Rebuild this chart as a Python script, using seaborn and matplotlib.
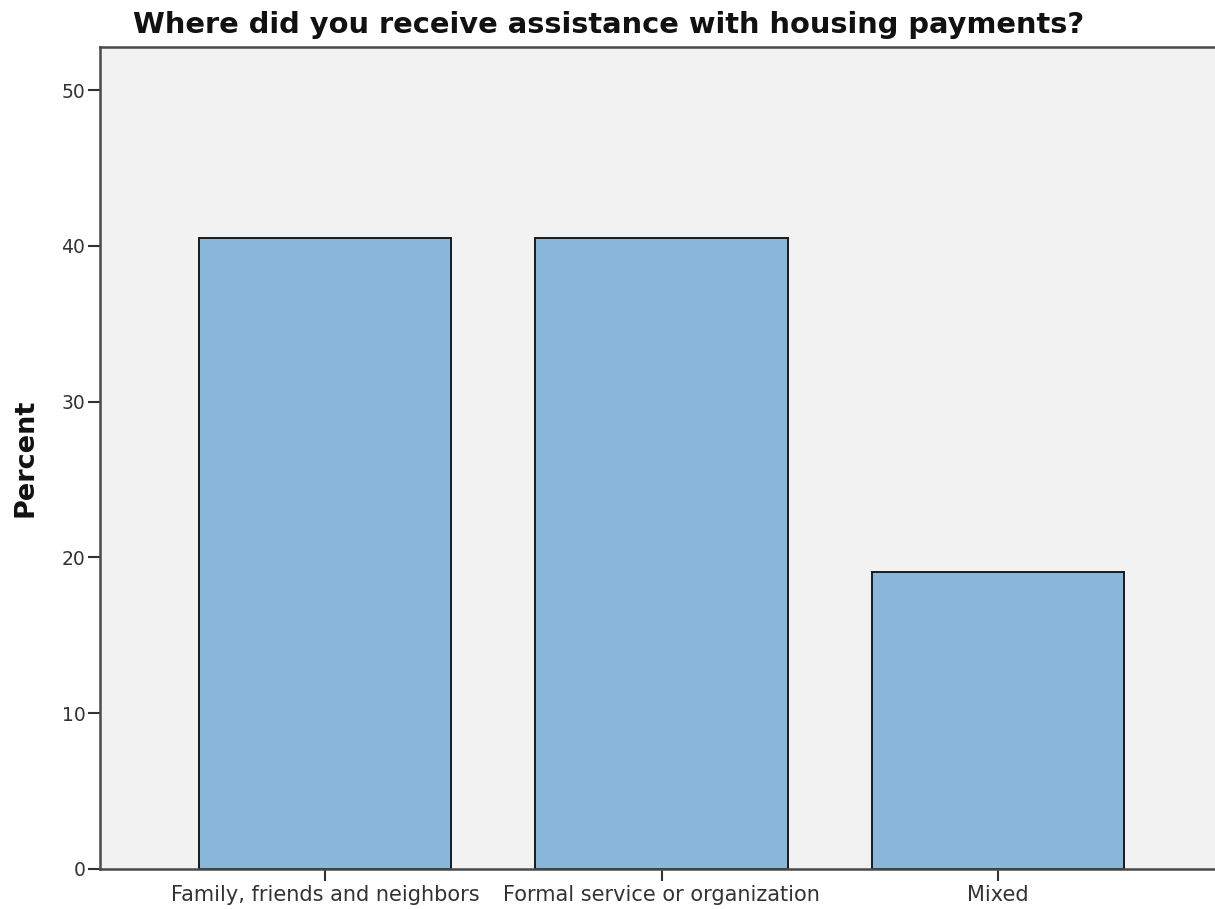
import matplotlib
matplotlib.use("Agg")
import matplotlib.pyplot as plt
import seaborn as sns
import pandas as pd

categories = ["Family, friends and neighbors", "Formal service or organization", "Mixed"]
percents = [40.48, 40.48, 19.05]
yticks = [0, 10, 20, 30, 40, 50]

sns.set_theme(style="white")
plt.rcParams["font.family"] = ["DejaVu Sans"]

df = pd.DataFrame({"source": categories, "percent": percents})

fig = plt.figure(figsize=(12.15, 9.09), dpi=100)
ax = fig.add_axes([100 / 1215, 1 - 869 / 909, 1 - 100 / 1215, (869 - 47) / 909])
ax.set_facecolor("#f2f2f2")

sns.barplot(data=df, x="source", y="percent", color="#89b8db", saturation=1,
            width=0.75, edgecolor="#1a1a1a", linewidth=1.4, ax=ax)

ax.set_xlim(-0.669, 2.645)
ax.set_ylim(0, 52.76)
ax.set_yticks(yticks)
ax.set_yticklabels([str(t) for t in yticks])

for side in ["left", "bottom", "top"]:
    ax.spines[side].set_visible(True)
    ax.spines[side].set_color("#4a4a4a")
    ax.spines[side].set_linewidth(1.8)
ax.spines["right"].set_visible(False)

ax.tick_params(axis="both", which="both", direction="out", length=8.5, width=1.5,
               color="#333333", labelcolor="#333333", pad=2,
               left=True, bottom=True)
ax.tick_params(axis="y", labelsize=13.5)
ax.tick_params(axis="x", labelsize=15, pad=3)

ax.set_xlabel("")
ax.set_ylabel("Percent", fontsize=19.5, fontweight="bold", color="#111111")
ax.yaxis.set_label_coords(-0.055, 0.5)
fig.text(0.501, 1 - 25 / 909, "Where did you receive assistance with housing payments?",
         ha="center", va="center", fontsize=20.8, fontweight="bold", color="#111111")

fig.savefig("out.png", dpi=100, facecolor="white")
